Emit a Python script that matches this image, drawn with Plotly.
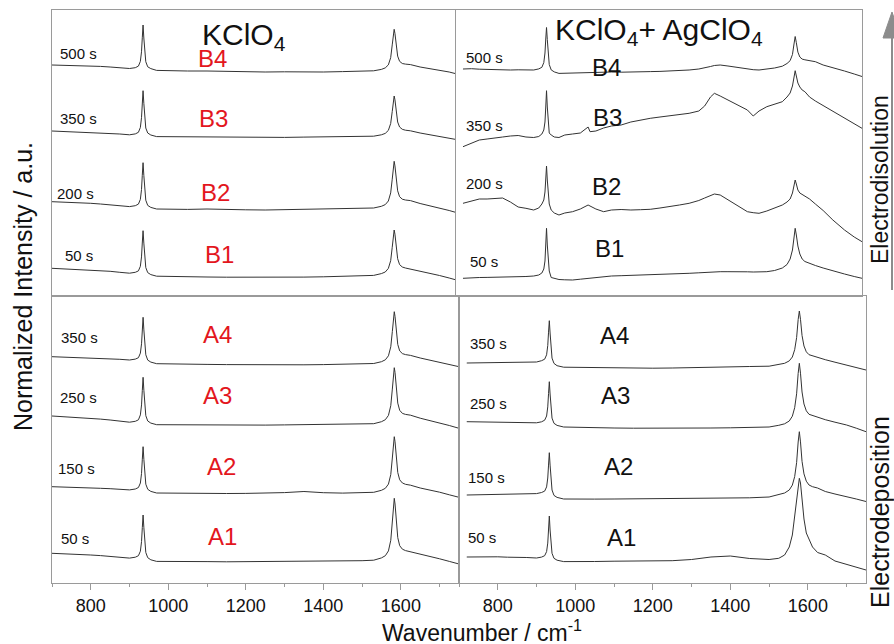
import plotly.graph_objects as go

# ---------------- data ----------------
WN_LEFT = [700, 725, 750, 775, 800, 825, 850, 875, 900,
           915, 923, 928, 931, 933, 935, 937, 939, 942, 947, 955, 970,
           1000, 1050, 1100, 1150, 1200, 1250, 1300, 1350, 1400, 1450, 1500,
           1530, 1550, 1560, 1568, 1574, 1578, 1581, 1583, 1585, 1588, 1592, 1597, 1604, 1612, 1625,
           1650, 1675, 1700, 1725, 1750]

KCLO4_B4 = [10, 9.8, 9.5, 9.3, 9, 8.6, 8, 7.3, 6.5,
            7.3, 8.9, 13.6, 23.2, 37.2, 50, 37, 23, 13.3, 8.2, 6.4, 4.6,
            4.2, 4, 4, 3.5, 3.2, 3, 3.2, 3, 3, 3.4, 3.8,
            4.2, 5.6, 7.1, 10.1, 17.3, 30.1, 42, 45.7, 41.6, 30.4, 18.9, 13.7, 11.5, 10.9, 10.4,
            8, 6.5, 5, 3, 0.5]
KCLO4_B3 = [10, 9.6, 9.4, 9, 8.7, 8.2, 7.8, 7, 6.2,
            7.1, 8.7, 13.5, 23.3, 37.7, 50.3, 37.7, 23, 13, 8, 6, 4.4,
            4.3, 4.5, 4, 4.2, 3.8, 4, 3.6, 3.9, 4.1, 4.3, 4.6,
            4.8, 6.2, 7.6, 10.6, 17.5, 29.4, 41.5, 45, 41.2, 30, 19, 14, 11.7, 10.8, 10.2,
            8, 6.3, 4.8, 3, 1]
KCLO4_B2 = [12.3, 12, 11.6, 11.2, 10.7, 10, 9.3, 8.3, 7.4,
            8.3, 9.9, 14.6, 24.4, 38.7, 51.3, 38.6, 24, 13.8, 8.6, 6.6, 5,
            4.8, 4.6, 5, 4.4, 4.2, 4, 4.3, 4.5, 4.8, 5, 5.5,
            6, 7.7, 9.4, 13, 21.1, 34.8, 48.1, 52.7, 48.1, 35.6, 23.2, 17.3, 14.8, 14, 13.4,
            10.5, 8.3, 6, 3.5, 0.7]
KCLO4_B1 = [12.7, 12.3, 12, 11.5, 11, 10.4, 9.7, 8.7, 7.8,
            8.7, 10.1, 14.7, 24.1, 38, 50.3, 37.9, 23.6, 13.5, 8.4, 6.4, 4.8,
            4.5, 4.2, 4, 3.8, 3.7, 3.5, 3.7, 3.9, 4.2, 4.6, 5.1,
            5.6, 7.4, 9, 12.6, 20.3, 33.7, 47, 51, 46.8, 34.4, 22.3, 16.4, 14, 13, 12,
            9.5, 7.5, 5.5, 3, 0.3]
KCLO4_A4 = [10.3, 10, 9.8, 9.5, 9.2, 8.8, 8.3, 7.7, 7,
            7.9, 9.3, 13.9, 23.2, 36.9, 49.7, 37.1, 22.3, 12.2, 6.9, 4.9, 3.3,
            3, 2.8, 2.6, 2.4, 2.2, 2, 2, 2.2, 2.4, 2.7, 3.1,
            3.5, 5.3, 7.2, 11.2, 20.2, 35.5, 50.6, 55.3, 50.5, 36.4, 22.6, 16.1, 13.4, 12.4, 11.6,
            9, 7, 5, 2.6, 0.3]
KCLO4_A3 = [13, 12.5, 12, 11.4, 10.7, 9.9, 9, 7.9, 6.8,
            7.7, 9.2, 14.1, 24.1, 38.7, 51.7, 38.7, 23.7, 13.3, 8, 5.9, 4.3,
            4.2, 4.1, 4, 3.9, 3.8, 3.9, 4.1, 4.3, 4.4, 4.6, 4.9,
            5.3, 7.3, 9.3, 13.6, 23.3, 39.9, 56, 61.3, 56.5, 40.9, 25.9, 18.7, 15.6, 14.6, 13.8,
            10.8, 8.6, 6.2, 3.5, 0.7]
KCLO4_A2 = [11.3, 11.1, 10.8, 10.5, 10.1, 9.7, 9.3, 8.8, 8.1,
            9, 10.5, 15, 24.6, 38.8, 51.3, 38.6, 24, 13.8, 8.7, 6.6, 5,
            4.8, 4.6, 4.8, 4.5, 4.6, 4.9, 5.4, 6.5, 5.3, 4.9, 5.2,
            5.7, 7.7, 9.7, 13.9, 23.4, 40, 56.4, 61.3, 56.2, 40.7, 25.5, 18.2, 15, 13.7, 12.8,
            10, 8, 5.8, 3.2, 0.7]
KCLO4_A1 = [11.7, 11.4, 11, 10.5, 10, 9.4, 8.7, 7.8, 6.9,
            7.8, 9.3, 13.8, 23.4, 37.5, 50, 37.3, 22.7, 12.5, 7.3, 5.2, 3.6,
            3.4, 3.3, 3.4, 3.2, 3.3, 3.1, 3.4, 3.6, 3.5, 3.8, 4.3,
            4.8, 7.1, 9.3, 14.1, 24.7, 42.9, 60.8, 66.7, 61, 43.9, 27.4, 19.3, 15.8, 14.4, 13.3,
            10.5, 8.5, 6.2, 3.6, 1]

WN_RIGHT_A = [720, 750, 775, 800, 825, 850, 875, 900,
              913, 921, 926, 929, 931, 933, 935, 937, 940, 945, 953, 970,
              1000, 1050, 1100, 1150, 1200, 1250, 1300, 1350, 1400, 1450, 1500,
              1525, 1540, 1552, 1560, 1566, 1571, 1575, 1578, 1581, 1585, 1590, 1596, 1603, 1612, 1625,
              1645, 1670, 1700, 1725, 1750]

AG_A4 = [8, 8.2, 8.5, 8.3, 8.6, 8.8, 8.7, 9,
         10.3, 11.8, 16.2, 25.4, 38.8, 50.3, 38, 23.3, 12.9, 7.6, 5.3, 3.8,
         3.6, 3.3, 3.1, 3, 2.8, 3, 3.4, 4, 4.8, 4.5, 4.8,
         6.4, 7.7, 10.1, 14, 21.3, 33.4, 51.5, 60, 51.7, 35.5, 25, 19.2, 16.3, 15.1, 13.9,
         11.3, 8.8, 6, 3.5, 1]
AG_A3 = [10.3, 10, 10.2, 9.8, 9.6, 9.4, 9.3, 9.2,
         10.2, 11.8, 16, 25.1, 38.4, 50.3, 38, 23.8, 13.9, 8.7, 6.6, 5,
         4.6, 4.3, 4, 3.8, 3.7, 3.6, 3.8, 4, 4.2, 4.5, 5,
         6.7, 8.2, 11, 15.8, 24.3, 38.2, 58.6, 68.7, 58.8, 40, 28, 21.2, 17.7, 16.4, 15.1,
         12.3, 9.8, 7, 3.8, 0.3]
AG_A2 = [7, 7.3, 7.5, 7.6, 7.8, 8, 8.2, 8.4,
         9.5, 10.9, 15.1, 24, 36.9, 49.3, 36.9, 22.3, 12, 6.6, 4.6, 3,
         2.8, 2.9, 3, 3.1, 3.3, 3.2, 3.5, 3.6, 3.8, 4.2, 5,
         7.1, 9, 12, 16.9, 25.4, 39.4, 60, 70.3, 60.1, 40.6, 28.1, 20.8, 17, 15.3, 14,
         10.5, 8, 5.5, 3, 0.5]
AG_A1 = [14, 14.3, 14.6, 14.2, 13.8, 14, 13.5, 13,
         13.9, 15.3, 19.4, 27.9, 40.5, 55, 41, 27.3, 17.7, 12.7, 10.8, 9.4,
         9.3, 9.5, 9.8, 10, 9.6, 10.3, 11.5, 14, 15, 12.5, 11.5,
         12.7, 16, 24, 36, 55, 74, 88, 92.7, 88, 72, 52, 38, 31, 24, 18.5,
         16, 10, 6.5, 3.5, 1]

WN_RIGHT_B = [718, 740, 760, 780, 800, 820, 840, 860, 880, 900,
              913, 921, 926, 929, 931, 933, 935, 937, 940, 945, 953,
              965, 980, 1000, 1020, 1040, 1045, 1060, 1080, 1100,
              1125, 1150, 1175, 1200, 1225, 1250, 1275, 1300, 1325,
              1340, 1355, 1365, 1380, 1400, 1425, 1450, 1465, 1480, 1500, 1520, 1540,
              1552, 1560, 1566, 1570, 1573, 1576, 1580, 1585, 1591, 1598,
              1610, 1625, 1645, 1670, 1700, 1725, 1745]

AG_B4 = [8, 8.3, 7.8, 7.5, 7.2, 7.5, 7, 7.2, 7.3, 7,
         8.1, 9.7, 14.4, 24, 38, 49.5, 37.4, 22.8, 12.5, 7.1, 5.1,
         3.6, 3.8, 4, 4.3, 4.6, 4.5, 4.3, 4.8, 5,
         4.8, 5.2, 5.3, 5.4, 5.6, 6, 6.3, 7, 8,
         9, 10.5, 11.5, 12, 11, 9.5, 8, 7.3, 7, 7.8, 9, 10.8,
         13.5, 16.3, 22.5, 33, 40.5, 34.3, 24.9, 20, 17.9, 17.2,
         16.3, 15.3, 12, 9.5, 6, 3, 0.5]
AG_B3 = [0.3, 4, 7, 8, 8.7, 10, 11, 11.5, 10, 9.5,
         10.5, 13, 17, 25, 40, 56.3, 40, 24, 14, 12, 10,
         9.5, 12, 13, 14, 20, 15.3, 16, 19, 21,
         22, 25, 27, 28.7, 30, 31, 32.5, 33.7, 36,
         41, 50, 53.7, 51, 47, 42, 37, 31, 36, 40.3, 43, 45.3,
         50, 54, 61, 70, 76.3, 71, 64, 60, 57, 55.3,
         50, 46, 41.5, 36, 28.7, 23, 18.7]
AG_B2 = [38.7, 41, 43, 43, 43.7, 44, 40, 35, 33.7, 32,
         34, 38, 42, 50, 63, 76, 62, 48, 38, 32, 29,
         27, 29, 30.3, 33, 37, 36, 33, 30.3, 32,
         32.5, 32, 32.3, 32.7, 34, 35.3, 37, 38.7, 41.5,
         44, 46.5, 48, 47, 42, 36, 30.3, 29.3, 28.7, 31, 33.7, 37,
         40, 43, 49, 57, 62, 58, 52, 49, 47.5, 46.5,
         43, 38, 31.5, 22, 12, 5, 0.3]
AG_B1 = [2.7, 3.3, 3.5, 3.6, 3.7, 3.8, 4, 4.2, 4.5, 5,
         6, 8, 12, 20, 35, 52.7, 36, 20, 10, 3.5, 2.5,
         1.5, 1.2, 1, 1.8, 2.7, 3, 3.5, 4.3, 5,
         5.3, 5.6, 5.8, 6, 6.2, 6.8, 7.2, 7.7, 8.2,
         8.6, 9, 9.2, 9.3, 9.3, 9.5, 9.2, 9, 9.1, 9.3, 10.5, 13,
         16.5, 22, 31, 44, 52.7, 46, 35, 27, 22, 19.5,
         17.5, 15.5, 13, 10, 7, 4.5, 2.7]

TIMES_B = ["500 s", "350 s", "200 s", "50 s"]
TIMES_A = ["350 s", "250 s", "150 s", "50 s"]
LABELS_B = ["B4", "B3", "B2", "B1"]
LABELS_A = ["A4", "A3", "A2", "A1"]
X_TICKS = [800, 1000, 1200, 1400, 1600]

# ---------------- layout constants ----------------
W, H = 894, 644
FONT = "Liberation Sans, Arial, Helvetica, sans-serif"
AXC = "#9a9a9a"
LINEC = "#333333"
RED = "#e3161d"


def px(x):
    return x / W


def py(y):
    return 1 - y / H


# panel geometry (pixels) and stacking offsets of the four spectra
panels = [
    dict(name="TL", ax="", x0=52, x1=455, y0=10, y1=296, xr=[700, 1740], bottom=False,
         wn=WN_LEFT, series=[KCLO4_B4, KCLO4_B3, KCLO4_B2, KCLO4_B1], offs=[221, 155, 82, 15]),
    dict(name="TR", ax="2", x0=456, x1=862, y0=10, y1=296, xr=[700, 1745], bottom=False,
         wn=WN_RIGHT_B, series=[AG_B4, AG_B3, AG_B2, AG_B1], offs=[219, 149, 54, 15]),
    dict(name="BL", ax="3", x0=52, x1=459, y0=296, y1=583, xr=[700, 1750], bottom=True,
         wn=WN_LEFT, series=[KCLO4_A4, KCLO4_A3, KCLO4_A2, KCLO4_A1], offs=[216, 154, 85, 18]),
    dict(name="BR", ax="4", x0=459, x1=866, y0=296, y1=583, xr=[700, 1750], bottom=True,
         wn=WN_RIGHT_A, series=[AG_A4, AG_A3, AG_A2, AG_A1], offs=[212, 151, 81, 12]),
]

fig = go.Figure()
layout = dict(width=W, height=H, margin=dict(l=0, r=0, t=0, b=0), autosize=False,
              paper_bgcolor="white", plot_bgcolor="white", showlegend=False,
              font=dict(family=FONT, color="#111"))

for p in panels:
    xa = "x" + p["ax"]
    ya = "y" + p["ax"]
    for vals, off in zip(p["series"], p["offs"]):
        fig.add_trace(go.Scatter(x=p["wn"], y=[off + v for v in vals], mode="lines",
                                 line=dict(color=LINEC, width=1),
                                 xaxis=xa, yaxis=ya, hoverinfo="skip"))
    xdict = dict(domain=[px(p["x0"]), px(p["x1"])], range=p["xr"], anchor=ya,
                 showline=True, mirror=True, linecolor=AXC, linewidth=1,
                 showgrid=False, zeroline=False)
    if p["bottom"]:
        xdict.update(ticks="outside", ticklen=6, tickwidth=1, tickcolor=AXC,
                     tickvals=X_TICKS, ticktext=[str(t) for t in X_TICKS],
                     tickfont=dict(size=18, color="#111", family=FONT),
                     minor=dict(tickvals=list(range(700, 1800, 100)), ticks="outside",
                                ticklen=3, tickwidth=1, tickcolor=AXC))
    else:
        xdict.update(ticks="", showticklabels=False)
    ydict = dict(domain=[py(p["y1"]), py(p["y0"])], range=[0, p["y1"] - p["y0"]], anchor=xa,
                 showline=True, mirror=True, linecolor=AXC, linewidth=1,
                 showgrid=False, zeroline=False, ticks="", showticklabels=False)
    layout["xaxis" + p["ax"]] = xdict
    layout["yaxis" + p["ax"]] = ydict

ann = []


def text(t, x, y, size, color="#111", xanchor="left", angle=0):
    ann.append(dict(text=t, x=px(x), y=py(y), xref="paper", yref="paper",
                    xanchor=xanchor, yanchor="middle", showarrow=False, textangle=angle,
                    font=dict(size=size, color=color, family=FONT)))


# time stamps and spectrum labels
for t, (x, y) in zip(TIMES_B, [(58, 54), (58, 119), (55, 193), (63, 255)]):
    text(t, x, y, 15)
for t, (x, y) in zip(LABELS_B, [(196, 59), (197, 119), (199, 192), (203, 254)]):
    text(t, x, y, 24, RED)
for t, (x, y) in zip(TIMES_A, [(59, 337.5), (58, 397.5), (56, 468), (59, 538.5)]):
    text(t, x, y, 15)
for t, (x, y) in zip(LABELS_A, [(201, 334), (201, 395), (205, 466), (206, 536)]):
    text(t, x, y, 24, RED)
for t, (x, y) in zip(TIMES_B, [(464, 57), (464, 125), (464, 183), (468, 261)]):
    text(t, x, y, 15)
for t, (x, y) in zip(LABELS_B, [(590, 67), (591, 117.5), (590, 186), (593, 248)]):
    text(t, x, y, 24)
for t, (x, y) in zip(TIMES_A, [(468, 343), (468, 403), (466, 477), (466, 537.5)]):
    text(t, x, y, 15)
for t, (x, y) in zip(LABELS_A, [(598, 335), (599, 395), (602, 467), (605, 537)]):
    text(t, x, y, 24)

# titles
text("KClO<sub>4</sub>", 200, 37, 30)
text("KClO<sub>4</sub>+ AgClO<sub>4</sub>", 553, 32, 30)

# axis titles
text("Normalized Intensity / a.u.", 23, 287, 25, xanchor="center", angle=-90)
text("Wavenumber / cm<sup>-1</sup>", 482, 631, 23, xanchor="center")
text("Electrodisolution", 880, 180, 23, xanchor="center", angle=-90)
text("Electrodeposition", 880, 512, 25, xanchor="center", angle=-90)

layout["annotations"] = ann

# arrow at the right edge
layout["shapes"] = [
    dict(type="line", xref="paper", yref="paper", x0=px(892), x1=px(892), y0=py(36), y1=py(290),
         line=dict(color="#8c8c8c", width=2)),
    dict(type="path", xref="paper", yref="paper",
         path="M {:.5f},{:.5f} L {:.5f},{:.5f} L {:.5f},{:.5f} Z".format(
             px(883), py(38), px(892), py(12), px(901), py(38)),
         fillcolor="#8c8c8c", line=dict(color="#8c8c8c", width=1)),
]

fig.update_layout(**layout)
fig.write_html("out.html", config={"displayModeBar": False},
               post_script="document.body.style.margin='0';document.body.style.overflow='hidden';")
